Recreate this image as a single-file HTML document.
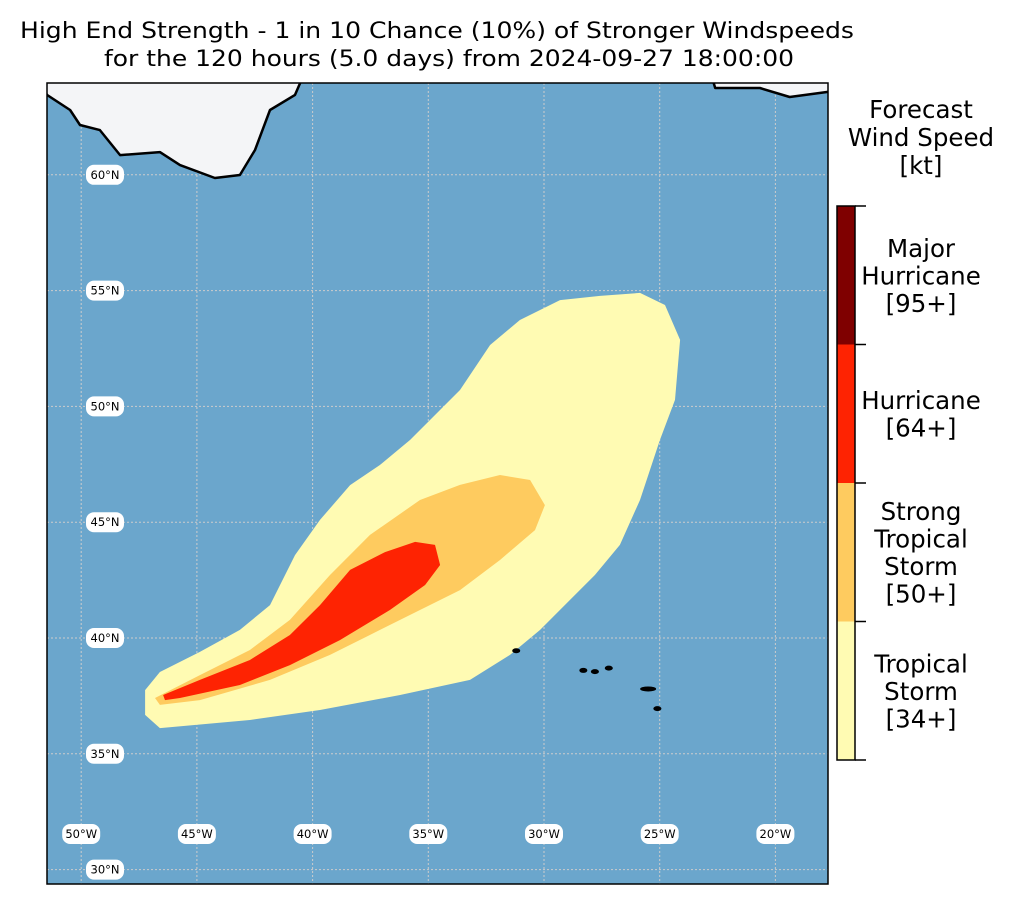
<!DOCTYPE html>
<html><head><meta charset="utf-8"><style>
body{margin:0;background:#fff;font-family:"Liberation Sans","DejaVu Sans",sans-serif;}
svg text{font-family:"DejaVu Sans","Liberation Sans",sans-serif;}
</style></head><body>
<svg id="chart" width="1015" height="904" viewBox="0 0 1015 904">
<text x="437" y="38" font-size="22" text-anchor="middle" textLength="834" lengthAdjust="spacingAndGlyphs">High End Strength - 1 in 10 Chance (10%) of Stronger Windspeeds</text>
<text x="449" y="66" font-size="22" text-anchor="middle" textLength="690" lengthAdjust="spacingAndGlyphs">for the 120 hours (5.0 days) from 2024-09-27 18:00:00</text>
<defs><clipPath id="mapclip"><rect x="47" y="83" width="781" height="801"/></clipPath></defs>
<rect x="47" y="83" width="781" height="801" fill="#6ba6cc"/>
<g id="grid" clip-path="url(#mapclip)"></g>
<g id="swaths" clip-path="url(#mapclip)"></g>
<g id="land" clip-path="url(#mapclip)"></g>
<g id="labels"></g>
<rect x="47" y="83" width="781" height="801" fill="none" stroke="#000" stroke-width="1.5"/>
<g id="colorbar"></g>
<text x="921" y="118" font-size="24.5" text-anchor="middle"><tspan x="921">Forecast</tspan><tspan x="921" dy="28">Wind Speed</tspan><tspan x="921" dy="28">[kt]</tspan></text>
</svg>
<script>
const NS='http://www.w3.org/2000/svg';
const lonTicks=[-50,-45,-40,-35,-30,-25,-20];
const latTicks=[60,55,50,45,40,35,30];
const yellowLon=[-47.24,-46.6,-44.87,-43.14,-41.84,-40.76,-39.68,-38.38,-37.09,-35.79,-34.93,-33.63,-32.33,-31.04,-29.31,-27.58,-25.85,-24.77,-24.12,-24.34,-24.99,-25.85,-26.72,-27.8,-28.88,-30.17,-31.47,-33.2,-36.22,-39.68,-42.71,-46.6,-47.24];
const yellowLat=[37.75,38.53,39.4,40.35,41.42,43.58,45.1,46.6,47.47,48.55,49.41,50.71,52.65,53.73,54.59,54.77,54.9,54.38,52.87,50.28,48.55,45.96,44.02,42.72,41.64,40.35,39.27,38.19,37.54,36.89,36.46,36.11,36.68];
const orangeLon=[-46.81,-44.87,-42.71,-40.98,-39.25,-37.52,-35.36,-33.63,-31.9,-30.6,-29.96,-30.39,-31.9,-33.63,-36.22,-39.25,-41.84,-44.87,-46.6];
const orangeLat=[37.41,38.4,39.48,40.78,42.72,44.45,45.96,46.61,47.04,46.82,45.74,44.66,43.37,42.07,40.78,39.27,38.19,37.32,37.11];
const redLon=[-46.46,-44.87,-42.71,-40.98,-39.68,-38.38,-36.87,-35.57,-34.71,-34.49,-35.14,-36.66,-38.82,-40.98,-43.14,-45.73,-46.38];
const redLat=[37.54,38.19,39.05,40.13,41.42,42.94,43.71,44.15,44.02,43.15,42.29,41.21,39.91,38.83,37.97,37.41,37.32];
const greenlandLon=[-52,-51.48,-50.48,-50.05,-49.19,-48.32,-46.6,-45.73,-44.22,-43.14,-42.49,-41.84,-40.76,-40.54,-40.54];
const greenlandLat=[64.5,63.45,62.8,62.15,61.93,60.85,60.98,60.42,59.86,59.99,61.07,62.8,63.45,63.96,64.5];
const icelandLon=[-22.74,-22.6,-20.67,-19.38,-17.73,-17.5,-17.5,-22.74];
const icelandLat=[64.2,63.75,63.75,63.36,63.58,63.58,64.2,64.2];
const isleLon=[-31.2,-28.3,-27.8,-27.2,-25.5,-25.1];
const isleLat=[39.45,38.6,38.55,38.7,37.8,36.95];
const cbLabels=[["Tropical","Storm","[34+]"],["Strong","Tropical","Storm","[50+]"],["Hurricane","[64+]"],["Major","Hurricane","[95+]"]];
const cbColors=['#fffbb3','#fecb5f','#fe2302','#7f0000'];
const X=lon=>544+(lon+30)*23.14;
const Y=lat=>638-(lat-40)*23.16;
function el(tag,attrs,parent){const e=document.createElementNS(NS,tag);for(const k in attrs)e.setAttribute(k,attrs[k]);parent.appendChild(e);return e;}
const grid=document.getElementById('grid');
lonTicks.forEach(v=>{const l=el('line',{x1:X(v),x2:X(v),y1:83,y2:884,stroke:'#ccc','stroke-width':1,'stroke-dasharray':'2,2'},grid);

});
latTicks.forEach(v=>{const l=el('line',{x1:47,x2:828,y1:Y(v),y2:Y(v),stroke:'#ccc','stroke-width':1,'stroke-dasharray':'2,2'},grid);

});
function poly(lons,lats,fill,stroke,parent,name){const pts=lons.map((v,i)=>X(v).toFixed(1)+','+Y(lats[i]).toFixed(1)).join(' ');
const p=el('polygon',{points:pts,fill:fill,stroke:stroke||'none','stroke-width':2.5,'stroke-linejoin':'round'},parent);

}
const sw=document.getElementById('swaths');
poly(yellowLon,yellowLat,cbColors[0],null,sw,'tropical-storm-area');
poly(orangeLon,orangeLat,cbColors[1],null,sw,'strong-tropical-storm-area');
poly(redLon,redLat,cbColors[2],null,sw,'hurricane-area');
const land=document.getElementById('land');
poly(greenlandLon,greenlandLat,'#f4f5f7','#000',land,'greenland-land');
poly(icelandLon,icelandLat,'#f4f5f7','#000',land,'iceland-land');
isleLon.forEach((v,i)=>{const e=el('ellipse',{cx:X(v),cy:Y(isleLat[i]),rx:i==4?8:4,ry:2.5,fill:'#000'},land);

});
const lab=document.getElementById('labels');
function label(x,y,t,name){const g=el('g',{},lab);


el('rect',{x:x-19,y:y-10,width:38,height:20,rx:8,fill:'#fff'},g);
const tx=el('text',{x:x,y:y+4,'font-size':11.5,'text-anchor':'middle'},g);tx.textContent=t;}
lonTicks.forEach(v=>label(X(v),834,Math.abs(v)+'°W','longitude-label'));
latTicks.forEach(v=>label(105,Y(v),v+'°N','latitude-label'));
const cb=document.getElementById('colorbar');
const cbTop=206,cbH=554,seg=cbH/cbColors.length;
cbColors.forEach((c,i)=>{const y=cbTop+cbH-(i+1)*seg;
const r=el('rect',{x:837,y:y,width:18,height:seg,fill:c},cb);


const lines=cbLabels[i];const cy=y+seg/2;const t=el('text',{'font-size':24.5,'text-anchor':'middle'},cb);


lines.forEach((s,j)=>{const ts=el('tspan',{x:921,y:cy+9+(j-(lines.length-1)/2)*27.5},t);ts.textContent=s;});});
el('rect',{x:837,y:cbTop,width:18,height:cbH,fill:'none',stroke:'#000','stroke-width':1.5},cb);
for(let i=0;i<=cbColors.length;i++){const y=cbTop+i*seg;el('line',{x1:855,x2:866,y1:y,y2:y,stroke:'#000','stroke-width':1.5},cb);}
</script>
</body></html>
